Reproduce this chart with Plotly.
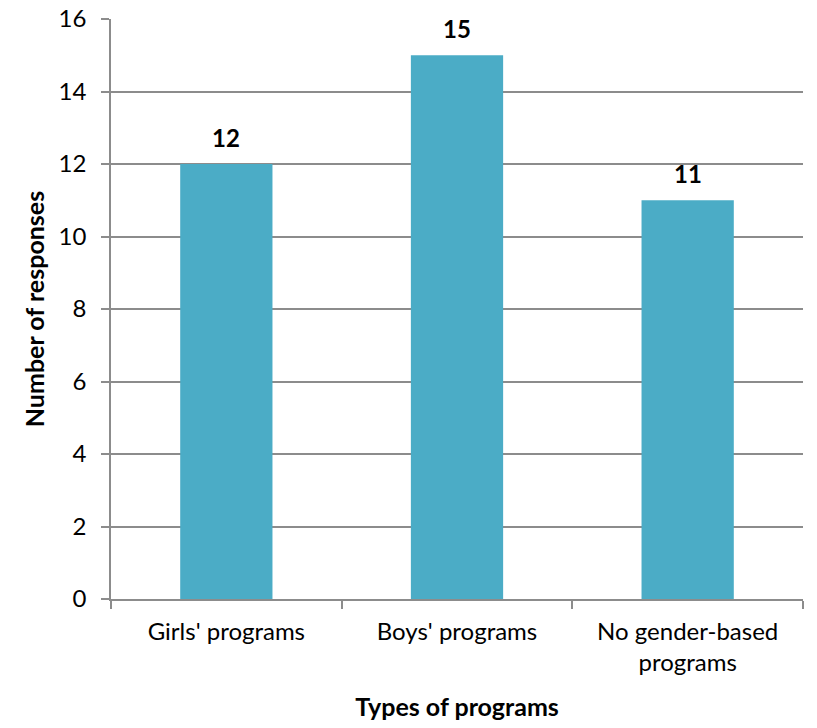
import plotly.graph_objects as go

# Survey results: number of responses per program type
categories = ["Girls' programs", "Boys' programs", "No gender-based<br>programs"]
responses = [12, 15, 11]
y_ticks = [0, 2, 4, 6, 8, 10, 12, 14, 16]

BAR_COLOR = "#4BACC6"
GRID_COLOR = "#8C8C8C"
FONT = "Lato"
SIZE = 24
TITLE_SIZE = 25

fig = go.Figure(
    go.Bar(
        x=categories,
        y=responses,
        marker=dict(color=BAR_COLOR, line=dict(width=0)),
        width=0.4,
        hoverinfo="skip",
    )
)

# Bold value labels above each bar
for cat, val in zip(categories, responses):
    fig.add_annotation(
        x=cat, y=val, text=f"<b>{val}</b>", showarrow=False,
        yanchor="middle", yshift=27,
        font=dict(family=FONT, size=SIZE, color="#000000"),
    )

fig.update_layout(
    width=817, height=728,
    margin=dict(l=111, r=14, t=19, b=129, autoexpand=False),
    paper_bgcolor="white", plot_bgcolor="white",
    showlegend=False,
    font=dict(family=FONT, size=SIZE, color="#000000"),
)

fig.update_xaxes(
    automargin=False,
    showline=True, linecolor=GRID_COLOR, linewidth=1.5,
    ticks="outside", tickson="boundaries", ticklen=8,
    tickcolor=GRID_COLOR, tickwidth=1.5,
    ticklabelstandoff=10,
    showgrid=False,
    tickfont=dict(family=FONT, size=SIZE),
    title=dict(text="<b>Types of programs</b>", font=dict(family=FONT, size=TITLE_SIZE), standoff=24),
)

fig.update_yaxes(
    automargin=False,
    range=[0, 16], tickvals=y_ticks,
    showline=True, linecolor=GRID_COLOR, linewidth=1.5,
    ticks="outside", ticklen=8, tickcolor=GRID_COLOR, tickwidth=1.5,
    ticklabelstandoff=10,
    showgrid=True, gridcolor=GRID_COLOR, gridwidth=1.5,
    zeroline=False,
    tickfont=dict(family=FONT, size=SIZE),
    title=dict(text="<b>Number of responses</b>", font=dict(family=FONT, size=TITLE_SIZE), standoff=7),
)

fig.write_html("out.html")
